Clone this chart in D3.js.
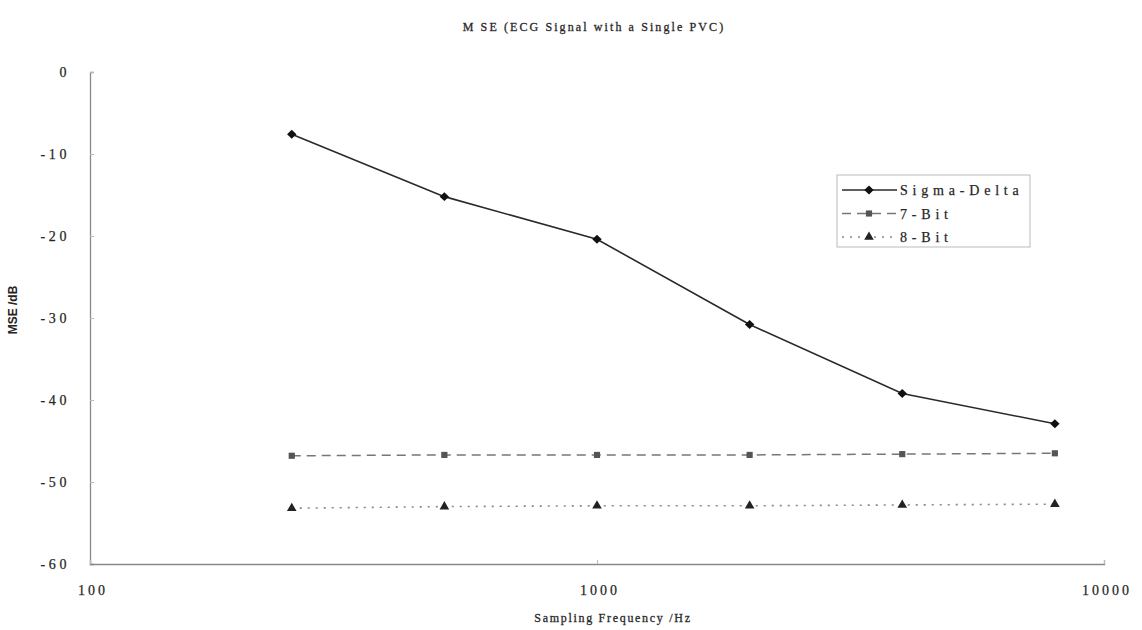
<!DOCTYPE html>
<html>
<head>
<meta charset="utf-8">
<script src="https://cdn.jsdelivr.net/npm/d3@7"></script>
<style>
  html, body { margin: 0; padding: 0; background: #fff; }
  svg text { font-family: "Liberation Serif", "DejaVu Serif", serif; fill: #222; }
</style>
</head>
<body>
<svg id="chart" width="1142" height="630"></svg>
<script>
// Sampling frequencies (Hz) and MSE (dB) per converter type
const frequencies = [250, 500, 1000, 2000, 4000, 8000];
const sigmaDelta = [-7.6, -15.2, -20.4, -30.8, -39.2, -42.9];
const bit7 = [-46.8, -46.7, -46.7, -46.7, -46.6, -46.5];
const bit8 = [-53.2, -53.0, -52.9, -52.9, -52.8, -52.7];
const xTicks = [100, 1000, 10000];
const yTicks = [0, -10, -20, -30, -40, -50, -60];
const seriesNames = ["Sigma-Delta", "7-Bit", "8-Bit"];

const svg = d3.select("#chart");
const plotLeft = 90, plotRight = 1104, plotTop = 72, plotBottom = 564;

const x = d3.scaleLog().domain([100, 10000]).range([plotLeft, plotRight]);
const y = d3.scaleLinear().domain([-60, 0]).range([plotBottom, plotTop]);

// Title
svg.append("text")
  .attr("x", 594).attr("y", 31)
  .attr("text-anchor", "middle")
  .style("font-size", "12px").style("letter-spacing", "2.1px")
  .style("stroke", "#333").style("stroke-width", "0.3px")
  .text("M SE (ECG Signal with a Single PVC)");

// Axes
const axisColor = "#888";
const yAxis = svg.append("g").attr("transform", `translate(${plotLeft},0)`)
  .call(d3.axisRight(y).tickValues(yTicks).tickSize(4).tickFormat(""));
yAxis.select(".domain").attr("stroke", axisColor).attr("stroke-width", 1.3);
yAxis.selectAll(".tick line").attr("stroke", "#bbb");

const xAxis = svg.append("g").attr("transform", `translate(0,${plotBottom})`)
  .call(d3.axisTop(x).tickValues(xTicks).tickSize(4).tickFormat(""));
xAxis.select(".domain").attr("stroke", axisColor).attr("stroke-width", 1.3);
xAxis.selectAll(".tick line").attr("stroke", "#bbb");

// Tick labels
svg.append("g").selectAll("text").data(yTicks).join("text")
  .attr("x", 70).attr("y", d => y(d) + 5)
  .attr("text-anchor", "end")
  .style("font-size", "14px").style("letter-spacing", "3.6px")
  .style("stroke", "#333").style("stroke-width", "0.25px")
  .text(d => d === 0 ? "0" : "-" + Math.abs(d));

svg.append("g").selectAll("text").data(xTicks).join("text")
  .attr("x", d => x(d) + 3).attr("y", 595)
  .attr("text-anchor", "middle")
  .style("font-size", "14px").style("letter-spacing", "3px")
  .style("stroke", "#333").style("stroke-width", "0.25px")
  .text(d => d);

// Axis titles
svg.append("text")
  .attr("x", 613).attr("y", 622)
  .attr("text-anchor", "middle")
  .style("font-size", "12px").style("letter-spacing", "1.7px")
  .style("stroke", "#333").style("stroke-width", "0.3px")
  .text("Sampling Frequency /Hz");

svg.append("text")
  .attr("transform", "translate(17,310) rotate(-90)")
  .attr("text-anchor", "middle")
  .style("font-family", "'Liberation Sans Narrow', 'Arial Narrow', 'Liberation Sans', sans-serif")
  .style("font-weight", "bold")
  .style("font-size", "12px")
  .text("MSE /dB");

// Series
const diamond = {
  draw(ctx, size) {
    const r = Math.sqrt(size / 2);
    ctx.moveTo(0, -r); ctx.lineTo(r * 1.05, 0); ctx.lineTo(0, r); ctx.lineTo(-r * 1.05, 0); ctx.closePath();
  }
};
const styles = [
  { values: sigmaDelta, stroke: "#2a2a2a", width: 1.6, dash: null, marker: diamond, size: 40, fill: "#111" },
  { values: bit7, stroke: "#777", width: 1.5, dash: "9,6", marker: d3.symbolSquare, size: 38, fill: "#555" },
  { values: bit8, stroke: "#888", width: 1.6, dash: "2,6", marker: d3.symbolTriangle, size: 40, fill: "#222" }
];

const line = d3.line().x(d => x(d[0])).y(d => y(d[1]));

styles.forEach(s => {
  const pts = frequencies.map((f, i) => [f, s.values[i]]);
  svg.append("path")
    .datum(pts)
    .attr("d", line)
    .attr("fill", "none")
    .attr("stroke", s.stroke)
    .attr("stroke-width", s.width)
    .attr("stroke-dasharray", s.dash);
  svg.append("g").selectAll("path").data(pts).join("path")
    .attr("transform", d => `translate(${x(d[0])},${y(d[1])})`)
    .attr("d", d3.symbol().type(s.marker).size(s.size))
    .attr("fill", s.fill);
});

// Legend
const legend = svg.append("g").attr("transform", "translate(837,175)");
legend.append("rect")
  .attr("width", 193).attr("height", 72)
  .attr("fill", "#fff").attr("stroke", "#bbb").attr("stroke-width", 1);
seriesNames.forEach((name, i) => {
  const s = styles[i];
  const ly = 15 + i * 23.5;
  legend.append("line")
    .attr("x1", 5).attr("x2", 60).attr("y1", ly).attr("y2", ly)
    .attr("stroke", s.stroke).attr("stroke-width", s.width)
    .attr("stroke-dasharray", s.dash);
  legend.append("path")
    .attr("transform", `translate(32,${ly})`)
    .attr("d", d3.symbol().type(s.marker).size(s.size))
    .attr("fill", s.fill);
  legend.append("text")
    .attr("x", 63).attr("y", ly + 5)
    .style("font-size", "14px").style("letter-spacing", "4.8px")
    .style("stroke", "#333").style("stroke-width", "0.25px")
    .text(name);
});
</script>
</body>
</html>
